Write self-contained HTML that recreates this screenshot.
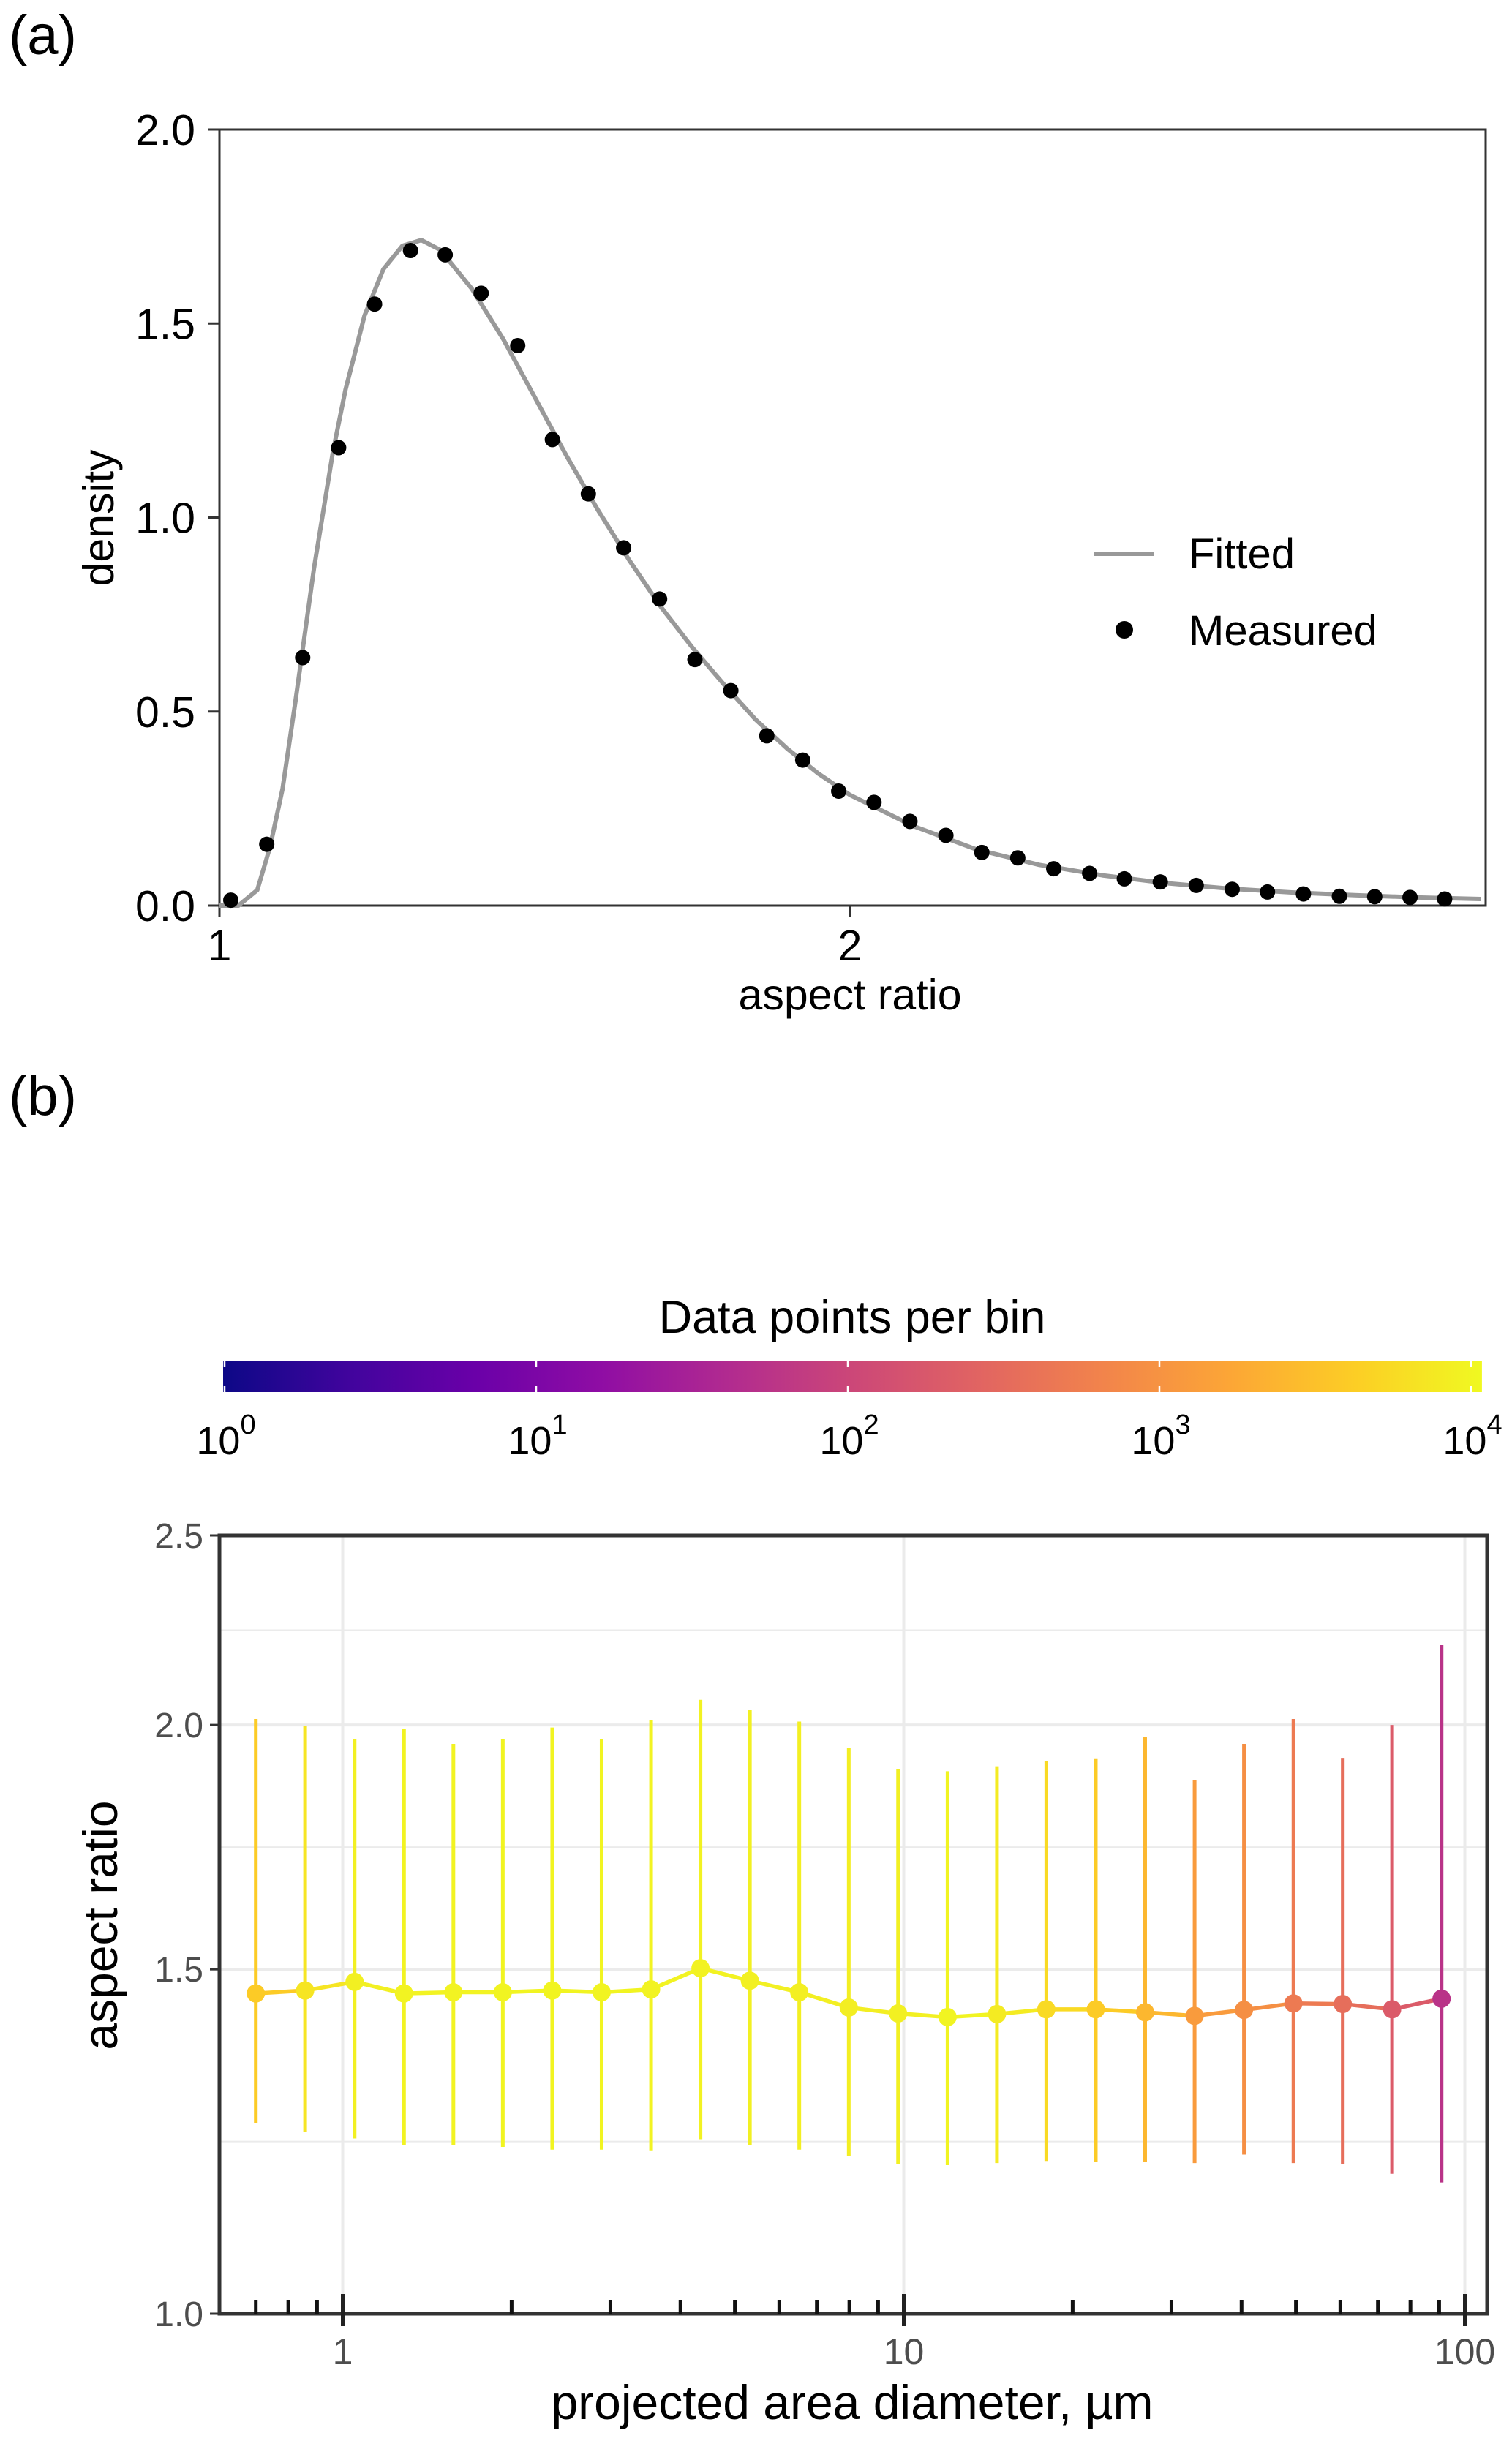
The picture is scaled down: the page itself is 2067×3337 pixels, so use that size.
<!DOCTYPE html>
<html><head><meta charset="utf-8"><title>Aspect ratio figure</title>
<style>
html,body{margin:0;padding:0;background:#fff;}
svg{display:block;font-family:"Liberation Sans",Arial,sans-serif;}
</style></head>
<body>
<svg id="fig" width="2067" height="3337" viewBox="0 0 2067 3337" xmlns="http://www.w3.org/2000/svg">
<defs>
<linearGradient id="plasma" x1="0" x2="1" y1="0" y2="0">
<stop offset="0" stop-color="#0d0887"/><stop offset="0.1" stop-color="#41049d"/><stop offset="0.2" stop-color="#6a00a8"/><stop offset="0.3" stop-color="#8f0da4"/><stop offset="0.4" stop-color="#b12a90"/><stop offset="0.5" stop-color="#cc4778"/><stop offset="0.6" stop-color="#e16462"/><stop offset="0.7" stop-color="#f2844b"/><stop offset="0.8" stop-color="#fca636"/><stop offset="0.9" stop-color="#fcce25"/><stop offset="1" stop-color="#f0f921"/>
</linearGradient>
</defs>
<text x="12" y="74" font-size="76">(a)</text>
<text x="12" y="1524" font-size="76">(b)</text>
<g id="pa"></g>
<g id="pb"></g>
</svg>
<script>
// ---------- Panel (a) data ----------
const measuredX = [1.018,1.075,1.132,1.189,1.246,1.303,1.358,1.415,1.473,1.528,1.585,1.641,1.698,1.754,1.811,1.868,1.925,1.982,2.038,2.095,2.152,2.209,2.266,2.323,2.380,2.435,2.492,2.549,2.606,2.662,2.719,2.776,2.832,2.888,2.943];
const measuredY = [0.014,0.158,0.639,1.18,1.55,1.688,1.677,1.578,1.443,1.201,1.061,0.922,0.790,0.634,0.554,0.4375,0.375,0.295,0.266,0.217,0.181,0.137,0.123,0.095,0.083,0.069,0.061,0.052,0.042,0.035,0.030,0.024,0.023,0.021,0.017];
const fittedX = [1.0,1.03,1.06,1.08,1.10,1.12,1.15,1.18,1.20,1.23,1.26,1.29,1.32,1.35,1.40,1.45,1.50,1.55,1.60,1.65,1.70,1.75,1.80,1.85,1.90,1.95,2.0,2.1,2.2,2.3,2.4,2.5,2.6,2.7,2.8,2.9,3.0];
const fittedY = [0,0,0.04,0.15,0.30,0.52,0.87,1.17,1.33,1.52,1.64,1.70,1.715,1.69,1.59,1.46,1.31,1.16,1.02,0.89,0.77,0.665,0.57,0.48,0.405,0.34,0.285,0.205,0.145,0.105,0.078,0.058,0.044,0.034,0.027,0.021,0.017];
const aYTicks = [0,0.5,1.0,1.5,2.0];
const aYTickLabels = ["0.0","0.5","1.0","1.5","2.0"];
const aXTicks = [1,2];
const aXTickLabels = ["1","2"];

// ---------- Panel (b) data ----------
const diam = [0.700,0.857,1.050,1.286,1.575,1.929,2.363,2.894,3.545,4.342,5.318,6.513,7.98,9.77,11.97,14.66,17.95,21.99,26.93,32.99,40.4,49.5,60.6,74.2,90.9];
const arMean = [1.458,1.463,1.478,1.458,1.460,1.460,1.463,1.460,1.465,1.502,1.480,1.460,1.434,1.424,1.418,1.423,1.431,1.431,1.426,1.420,1.430,1.441,1.440,1.431,1.449];
const arUpper = [2.014,1.998,1.967,1.990,1.956,1.967,1.994,1.967,2.012,2.060,2.035,2.008,1.946,1.899,1.894,1.905,1.917,1.923,1.972,1.875,1.956,2.014,1.924,2.000,2.197];
const arLower = [1.252,1.239,1.229,1.219,1.220,1.217,1.213,1.213,1.212,1.228,1.220,1.213,1.204,1.193,1.191,1.194,1.197,1.196,1.196,1.194,1.206,1.194,1.192,1.179,1.167];
const binCounts = [4000,7000,9000,9500,9500,9800,9800,9800,9600,9400,9000,8800,8500,9000,9800,8000,5600,4000,2500,1250,900,500,350,200,55];
const bYTicks = [1.0,1.5,2.0,2.5];
const bYTickLabels = ["1.0","1.5","2.0","2.5"];
const bXTicks = [1,10,100];
const bXTickLabels = ["1","10","100"];
const bXMinor = [0.7,0.8,0.9,2,3,4,5,6,7,8,9,20,30,40,50,60,70,80,90];
const cbarExps = [0,1,2,3,4];

const NS = "http://www.w3.org/2000/svg";
function mk(parent, tag, attrs, text){
  const e = document.createElementNS(NS, tag);
  for (const k in attrs) e.setAttribute(k, attrs[k]);
  if (text !== undefined) e.textContent = text;
  parent.appendChild(e);
  return e;
}

// ===== Panel (a) =====
const pa = document.getElementById('pa');
const aL = 300, aR = 2031, aT = 177, aB = 1238;
const ax = v => aL + (v - 1) / (3.008 - 1) * (aR - aL);
const ay = v => aB - v / 2 * (aB - aT);

let el = mk(pa, 'rect', {x:aL, y:aT, width:aR-aL, height:aB-aT, fill:'none', stroke:'#333', 'stroke-width':3});



aYTicks.forEach((t,i)=>{
  let tk = mk(pa,'line',{x1:aL-15,x2:aL,y1:ay(t),y2:ay(t),stroke:'#333','stroke-width':3});
  
  
  let lb = mk(pa,'text',{x:aL-33,y:ay(t)+21,'font-size':59,'text-anchor':'end',fill:'#000'}, aYTickLabels[i]);
  
  
});
aXTicks.forEach((t,i)=>{
  let tk = mk(pa,'line',{x1:ax(t),x2:ax(t),y1:aB,y2:aB+15,stroke:'#333','stroke-width':3});
  
  
  let lb = mk(pa,'text',{x:ax(t),y:aB+75,'font-size':59,'text-anchor':'middle',fill:'#000'}, aXTickLabels[i]);
  
  
});
el = mk(pa,'text',{x:ax(2),y:1380,'font-size':59,'text-anchor':'middle'},'aspect ratio');


el = mk(pa,'text',{x:0,y:0,'font-size':59,'text-anchor':'middle',transform:'translate(155,708) rotate(-90)'},'density');



let fd = fittedX.map((x,i)=>(i?'L':'M')+ax(x).toFixed(1)+','+ay(fittedY[i]).toFixed(1)).join(' ');
el = mk(pa,'path',{d:fd,fill:'none',stroke:'#999','stroke-width':6,'stroke-linejoin':'round'});


measuredX.forEach((x,i)=>{
  let c = mk(pa,'circle',{cx:ax(x),cy:ay(measuredY[i]),r:10.5,fill:'#000'});
  
  
});
// legend
el = mk(pa,'line',{x1:1496,x2:1578,y1:757,y2:757,stroke:'#999','stroke-width':6});


el = mk(pa,'text',{x:1625,y:777,'font-size':58},'Fitted');


el = mk(pa,'circle',{cx:1537,cy:861,r:12,fill:'#000'});


el = mk(pa,'text',{x:1625,y:882,'font-size':58},'Measured');



// ===== Panel (b) =====
const pb = document.getElementById('pb');
const bL = 300, bR = 2033, bT = 2099, bB = 3163;
const x1px = 468.5, decX = 767;
const bx = v => x1px + Math.log10(v) * decX;
const yMin = 1.0, yMax = 2.5;
const by = v => bB - (Math.log10(v) - Math.log10(yMin)) / (Math.log10(yMax) - Math.log10(yMin)) * (bB - bT);

const stops = ['#0d0887','#41049d','#6a00a8','#8f0da4','#b12a90','#cc4778','#e16462','#f2844b','#fca636','#fcce25','#f0f921'];
function hex(h){return [1,3,5].map(i=>parseInt(h.substr(i,2),16));}
const cbMaxExp = 4.035;
function plasma(count){
  let t = Math.max(0, Math.min(1, Math.log10(count)/cbMaxExp));
  let f = t*10, i = Math.min(9, Math.floor(f)), r = f - i;
  let a = hex(stops[i]), b = hex(stops[i+1]);
  return 'rgb(' + a.map((v,k)=>Math.round(v + (b[k]-v)*r)).join(',') + ')';
}

// colorbar
const cbL = 307, cbDec = 426, cbT = 1861, cbB = 1903;
el = mk(pb,'text',{x:1165,y:1822,'font-size':63,'text-anchor':'middle'},'Data points per bin');


el = mk(pb,'rect',{x:cbL-2,y:cbT,width:cbL+cbMaxExp*cbDec-(cbL-2),height:cbB-cbT,fill:'url(#plasma)'});


cbarExps.forEach(e=>{
  const x = cbL + e*cbDec;
  let t1 = mk(pb,'line',{x1:x,x2:x,y1:cbT,y2:cbT+8,stroke:'#fff','stroke-width':2.5});
  
  
  let t2 = mk(pb,'line',{x1:x,x2:x,y1:cbB-8,y2:cbB,stroke:'#fff','stroke-width':2.5});
  
  
  let lb = mk(pb,'text',{x:x+2,y:1988,'font-size':54,'text-anchor':'middle'});
  
  
  mk(lb,'tspan',{},'10');
  mk(lb,'tspan',{dy:-28,'font-size':38},String(e));
});

// gridlines
for (let i=0;i<bYTicks.length-1;i++){
  const m = Math.pow(10,(Math.log10(bYTicks[i])+Math.log10(bYTicks[i+1]))/2);
  let g = mk(pb,'line',{x1:bL,x2:bR,y1:by(m),y2:by(m),stroke:'#ebebeb','stroke-width':2});
  
  
}
bYTicks.forEach(t=>{
  let g = mk(pb,'line',{x1:bL,x2:bR,y1:by(t),y2:by(t),stroke:'#ebebeb','stroke-width':4});
  
  
});
bXTicks.forEach(t=>{
  let g = mk(pb,'line',{x1:bx(t),x2:bx(t),y1:bT,y2:bB,stroke:'#ebebeb','stroke-width':4});
  
  
});

// error bars
diam.forEach((d,i)=>{
  let e = mk(pb,'line',{x1:bx(d),x2:bx(d),y1:by(arUpper[i]),y2:by(arLower[i]),stroke:plasma(binCounts[i]),'stroke-width':5});
  
  
});
// line segments
for (let i=0;i<diam.length-1;i++){
  let s = mk(pb,'line',{x1:bx(diam[i]),y1:by(arMean[i]),x2:bx(diam[i+1]),y2:by(arMean[i+1]),stroke:plasma(binCounts[i]),'stroke-width':5.5,'stroke-linecap':'round'});
  
  
}
// points
diam.forEach((d,i)=>{
  let c = mk(pb,'circle',{cx:bx(d),cy:by(arMean[i]),r:12.5,fill:plasma(binCounts[i])});
  
  
});

// border
el = mk(pb,'rect',{x:bL,y:bT,width:bR-bL,height:bB-bT,fill:'none',stroke:'#333','stroke-width':5});



// y ticks
bYTicks.forEach((t,i)=>{
  let tk = mk(pb,'line',{x1:bL-13,x2:bL,y1:by(t),y2:by(t),stroke:'#333','stroke-width':3});
  
  
  let lb = mk(pb,'text',{x:bL-22,y:by(t)+17,'font-size':48,'text-anchor':'end',fill:'#4d4d4d'}, bYTickLabels[i]);
  
  
});
// x ticks
bXTicks.forEach((t,i)=>{
  let tk = mk(pb,'line',{x1:bx(t),x2:bx(t),y1:3136,y2:3180,stroke:'#222','stroke-width':5});
  
  
  let lb = mk(pb,'text',{x:bx(t),y:3232,'font-size':50,'text-anchor':'middle',fill:'#4d4d4d'}, bXTickLabels[i]);
  
  
});
bXMinor.forEach(t=>{
  let tk = mk(pb,'line',{x1:bx(t),x2:bx(t),y1:3144,y2:3163,stroke:'#111','stroke-width':5});
  
  
});
el = mk(pb,'text',{x:1165,y:3307,'font-size':66,'text-anchor':'middle'},'projected area diameter, µm');


el = mk(pb,'text',{x:0,y:0,'font-size':66,'text-anchor':'middle',transform:'translate(160,2632) rotate(-90)'},'aspect ratio');


</script>
</body></html>
